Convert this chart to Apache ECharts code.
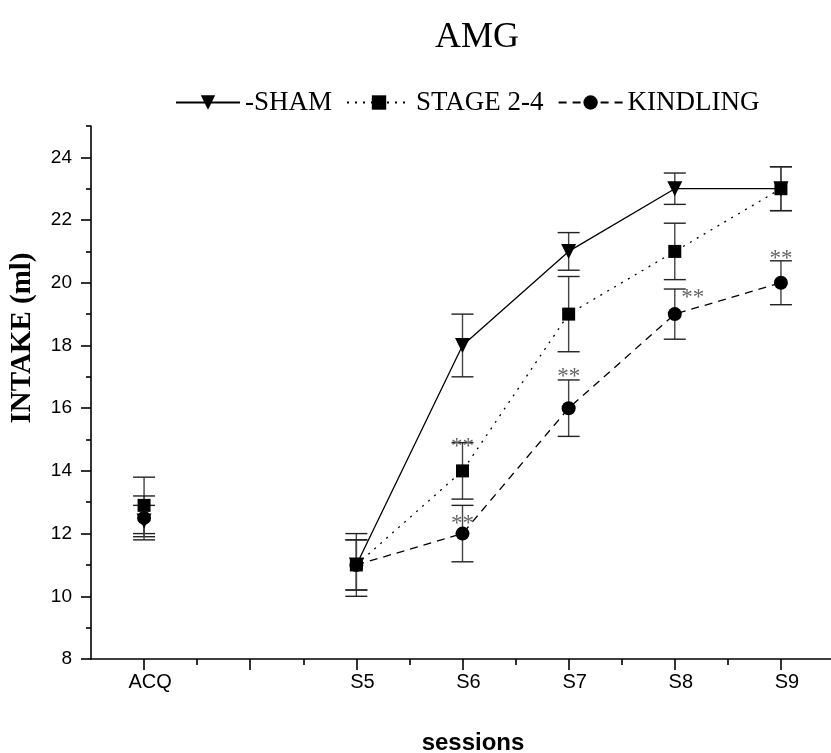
<!DOCTYPE html>
<html><head><meta charset="utf-8">
<script src="https://cdn.jsdelivr.net/npm/echarts@6/dist/echarts.min.js"></script>
<style>html,body{margin:0;padding:0;background:#fff}#c{width:831px;height:753px}</style>
</head><body><div id="c"></div>
<script>
// ---- data ----
const categories = ['ACQ', '', 'S5', 'S6', 'S7', 'S8', 'S9'];
const shamMean  = [12.4, null, 11, 18, 21, 23, 23];
const shamErr   = [0.5,  null, 1.0, 1.0, 0.6, 0.5, 0.7];
const stageMean = [12.9, null, 11, 14, 19, 21, 23];
const stageErr  = [0.9,  null, 0.8, 0.9, 1.2, 0.9, 0.7];
const kindMean  = [12.5, null, 11, 12, 16, 19, 20];
const kindErr   = [0.7,  null, 0.8, 0.9, 0.9, 0.8, 0.7];
const yTicks = [8, 10, 12, 14, 16, 18, 20, 22, 24];
const yMinorTicks = [9, 11, 13, 15, 17, 19, 21, 23, 25];
const xTicks = [0, 1, 2, 3, 4, 5, 6];
const xMinorTicks = [0.5, 1.5, 2.5, 3.5, 4.5, 5.5];
// significance annotations "**" (position in data units)
const sigX = [3, 3, 4, 5.17, 6];
const sigY = [14.95, 12.5, 17.2, 19.7, 20.95];

const SERIF = 'Liberation Serif';
const SANS = 'Liberation Sans';

function lineData(mean) {
  return mean.map((v, i) => [i, v === null ? '-' : v]);
}
function errData(mean, err) {
  const out = [];
  mean.forEach((v, i) => { if (v !== null) out.push([i, v - err[i], v + err[i]]); });
  return out;
}
function errSeries(mean, err) {
  return {
    type: 'custom', data: errData(mean, err), z: 1, silent: true,
    encode: { x: 0, y: [1, 2] },
    renderItem(params, api) {
      const x = api.value(0);
      const p1 = api.coord([x, api.value(2)]);
      const p2 = api.coord([x, api.value(1)]);
      const w = 11;
      const st = { stroke: '#222', lineWidth: 1.4 };
      return { type: 'group', children: [
        { type: 'line', shape: { x1: p1[0], y1: p1[1], x2: p2[0], y2: p2[1] }, style: { stroke: '#444', lineWidth: 1.4 } },
        { type: 'line', shape: { x1: p1[0] - w, y1: p1[1], x2: p1[0] + w, y2: p1[1] }, style: st },
        { type: 'line', shape: { x1: p2[0] - w, y1: p2[1], x2: p2[0] + w, y2: p2[1] }, style: st }
      ]};
    }
  };
}

const chart = echarts.init(document.getElementById('c'));
chart.setOption({
  backgroundColor: '#fff',
  animation: false,
  graphic: [
    { type: 'text', style: { text: 'AMG', x: 477, y: 38, align: 'center', verticalAlign: 'middle',
      font: '36px "' + SERIF + '"', fill: '#000' } },
    { type: 'text', x: 23, y: 338, rotation: Math.PI / 2,
      style: { text: 'INTAKE (ml)', x: 0, y: 0, align: 'center', verticalAlign: 'middle',
      font: 'bold 29px "' + SERIF + '"', fill: '#000' } },
    { type: 'text', style: { text: 'sessions', x: 473, y: 743, align: 'center', verticalAlign: 'middle',
      font: 'bold 24px "' + SANS + '"', fill: '#000' } }
  ],
  legend: {
    left: 170, top: 84, itemWidth: 64, itemHeight: 18, itemGap: 14,
    textStyle: { fontFamily: SERIF, fontSize: 27, color: '#000' },
    data: ['-SHAM', 'STAGE 2-4', 'KINDLING']
  },
  grid: { left: 91, right: -3, top: 126, bottom: 94, outerBoundsMode: 'none', containLabel: false },
  xAxis: [{
    type: 'value', min: -0.5, max: 6.5, position: 'bottom',
    splitLine: { show: false },
    axisLine: { onZero: false, lineStyle: { color: '#000', width: 1.6 } },
    axisTick: { inside: false, length: 11, customValues: xTicks, lineStyle: { color: '#000', width: 1.6 } },
    axisLabel: { customValues: xTicks, margin: 13, padding: [0, 0, 0, 12], fontFamily: SANS, fontSize: 20, color: '#000',
      formatter: v => categories[Math.round(v)] || '' }
  }, {
    type: 'value', min: -0.5, max: 6.5, position: 'bottom',
    splitLine: { show: false },
    axisLine: { show: false, onZero: false },
    axisTick: { inside: false, length: 6, customValues: xMinorTicks, lineStyle: { color: '#000', width: 1.6 } },
    axisLabel: { show: false }
  }],
  yAxis: [{
    type: 'value', min: 8, max: 25, position: 'left',
    splitLine: { show: false },
    axisLine: { onZero: false, lineStyle: { color: '#000', width: 1.6 } },
    axisTick: { inside: false, length: 10, customValues: yTicks, lineStyle: { color: '#000', width: 1.6 } },
    axisLabel: { customValues: yTicks, margin: 19, fontFamily: SANS, fontSize: 19, color: '#000' }
  }, {
    type: 'value', min: 8, max: 25, position: 'left',
    splitLine: { show: false },
    axisLine: { show: false, onZero: false },
    axisTick: { inside: false, length: 5, customValues: yMinorTicks, lineStyle: { color: '#000', width: 1.6 } },
    axisLabel: { show: false }
  }],
  series: [
    errSeries(shamMean, shamErr), errSeries(stageMean, stageErr), errSeries(kindMean, kindErr),
    { name: '-SHAM', type: 'line', data: lineData(shamMean), z: 3, connectNulls: false,
      symbol: 'triangle', symbolRotate: 180, symbolSize: 15, showAllSymbol: true,
      lineStyle: { color: '#000', width: 1.3, type: 'solid' }, itemStyle: { color: '#000' } },
    { name: 'STAGE 2-4', type: 'line', data: lineData(stageMean), z: 3, connectNulls: false,
      symbol: 'rect', symbolSize: 13, showAllSymbol: true,
      lineStyle: { color: '#000', width: 1.3, type: [2, 6] }, itemStyle: { color: '#000' } },
    { name: 'KINDLING', type: 'line', data: lineData(kindMean), z: 3, connectNulls: false,
      symbol: 'circle', symbolSize: 14, showAllSymbol: true,
      lineStyle: { color: '#000', width: 1.3, type: [8, 6] }, itemStyle: { color: '#000' } },
    {
      type: 'custom', silent: true, z: 5,
      data: sigX.map((x, i) => [x, sigY[i]]),
      encode: { x: 0, y: 1 },
      renderItem(params, api) {
        const p = api.coord([api.value(0), api.value(1)]);
        return { type: 'text', x: p[0], y: p[1] + 6,
          style: { text: '**', fill: '#666', font: '23px "' + SERIF + '"',
            align: 'center', verticalAlign: 'middle' } };
      }
    }
  ]
});
</script></body></html>
